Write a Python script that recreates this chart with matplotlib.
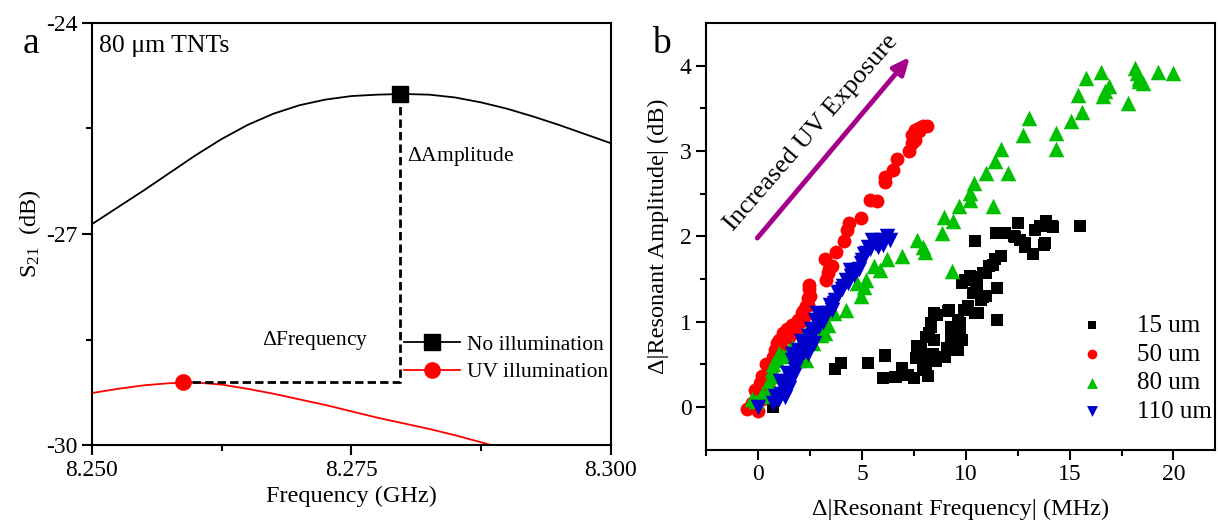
import numpy as np
import matplotlib
matplotlib.use("Agg")
import matplotlib.pyplot as plt

plt.rcParams['font.family'] = ['Liberation Serif', 'DejaVu Serif']
plt.rcParams['mathtext.fontset'] = 'custom'
plt.rcParams['mathtext.rm'] = 'Liberation Serif'
plt.rcParams['mathtext.it'] = 'Liberation Serif:italic'
plt.rcParams['axes.unicode_minus'] = False

# ---- panel a: S21 curves ----
freq_dark = [8.2500, 8.2525, 8.2550, 8.2575, 8.2600, 8.2625, 8.2650, 8.2675,
             8.2700, 8.2725, 8.2750, 8.2775, 8.2800, 8.2825, 8.2850, 8.2875,
             8.2900, 8.2925, 8.2950, 8.2975, 8.3000]
s21_dark = [-26.86, -26.62, -26.38, -26.13, -25.88, -25.65, -25.45, -25.29,
            -25.17, -25.09, -25.04, -25.02, -25.01, -25.02, -25.06, -25.13,
            -25.22, -25.33, -25.45, -25.58, -25.71]
freq_uv = [8.2500, 8.2525, 8.2550, 8.2575, 8.2600, 8.2625, 8.2650, 8.2675,
           8.2700, 8.2725, 8.2750, 8.2775, 8.2800, 8.2825, 8.2850, 8.2875,
           8.2900]
s21_uv = [-29.26, -29.20, -29.15, -29.12, -29.11, -29.14, -29.20, -29.27,
          -29.35, -29.43, -29.52, -29.61, -29.69, -29.77, -29.86, -29.96,
          -30.06]
peak_dark = (8.2797, -25.01)
peak_uv = (8.2588, -29.11)

# ---- panel b: amplitude vs frequency shift ----
df_15 = [0.69, 3.69, 3.98, 5.29, 6.08, 5.99, 6.57, 6.93, 7.21, 7.48, 7.66, 7.85,
         8.03, 8.16, 8.21, 8.30, 8.48, 8.45, 8.58, 8.08, 9.01, 9.10, 9.19, 9.28,
         9.45, 9.64, 9.73, 9.82, 9.64, 9.82, 9.91, 10.09, 10.18, 10.36, 10.46,
         10.55, 10.73, 10.82, 10.95, 10.46, 11.13, 11.40, 11.50, 11.50, 11.68,
         11.86, 11.59, 12.32, 12.50, 12.59, 12.86, 13.23, 13.32, 13.59, 13.87,
         14.14, 13.78, 15.51, 6.11, 6.63, 7.83, 8.07, 8.31, 8.59, 9.16, 9.26,
         9.07, 9.55, 9.74, 9.98, 10.26, 10.50, 10.84, 10.60, 10.98, 11.31,
         11.46, 11.89, 12.36, 12.84, 13.79, 14.18, 7.60, 7.95, 8.40]
da_15 = [0.00, 0.45, 0.52, 0.52, 0.60, 0.34, 0.35, 0.46, 0.38, 0.34, 0.71, 0.63,
         0.55, 0.36, 0.87, 0.98, 1.10, 0.79, 0.54, 0.44, 0.59, 0.69, 1.14, 0.83,
         0.67, 1.02, 0.87, 0.79, 0.67, 1.45, 1.14, 1.18, 1.53, 1.34, 1.10,
         1.43, 1.26, 1.57, 1.30, 1.94, 1.65, 1.73, 1.39, 1.02, 1.77,
         2.04, 2.04, 2.00, 2.16, 1.96, 1.88, 1.79, 2.08, 2.12, 2.18,
         2.12, 1.90, 2.12, 0.61, 0.35, 0.70, 0.82, 0.94, 1.08, 1.13, 0.94,
         0.67, 0.78, 0.98, 1.49, 1.52, 1.39, 1.29, 1.10, 1.57, 1.66,
         2.04, 2.04, 1.99, 1.92, 1.92, 2.11, 0.58, 0.45, 0.62]

df_50 = [-0.55, 0.00, -0.18, 0.09, 0.18, 0.36, 0.55, 0.73, 0.82, 0.91, 1.00,
         1.19, 1.37, 1.64, 1.82, 1.92, 2.10, 2.28, 2.37, 2.46, 2.46, 3.19, 3.28,
         3.56, 3.38, 3.74, 4.11, 4.29, 4.38, 4.96, 5.38, 5.71, 6.08, 6.08, 6.48,
         6.66, 7.26, 7.39, 7.48, 7.39, 7.57, 7.76, 7.94, 8.12, 7.57, 7.76,
         0.20, 0.50, 0.60, 1.10, 1.30, 1.50, 2.00, 2.20, 2.40, -0.30, 0.40,
         0.65, 0.95, 1.70, 2.15, 2.50, 3.40]
da_50 = [-0.02, -0.04, 0.20, 0.28, 0.36, 0.50, 0.44, 0.59, 0.67, 0.75, 0.79,
         0.87, 0.91, 0.96, 0.91, 1.02, 1.10, 1.18, 1.28, 1.38, 1.43, 1.73, 1.49,
         1.65, 1.57, 1.82, 1.94, 2.08, 2.16, 2.21, 2.43, 2.41, 2.64, 2.70, 2.78,
         2.90, 3.00, 3.09, 3.17, 3.19, 3.25, 3.27, 3.29, 3.29, 3.13, 3.23,
         0.10, 0.30, 0.40, 0.70, 0.85, 0.82, 1.00, 1.05, 1.20, 0.05, 0.25,
         0.52, 0.65, 0.93, 1.12, 1.30, 1.62]

df_80 = [-0.31, -0.09, 0.36, 0.55, 0.64, 0.73, 0.82, 1.00, 1.46, 1.92, 2.28,
         2.65, 2.92, 3.19, 3.38, 3.65, 4.20, 4.74, 4.93, 5.11, 5.20, 5.57, 5.84,
         6.20, 6.93, 7.66, 7.94, 8.03, 8.85, 8.94, 9.40, 9.31, 9.67, 10.22,
         10.22, 10.40, 10.95, 11.31, 11.40, 11.68, 12.04, 12.77, 13.05, 14.33,
         14.33, 15.05, 15.60, 15.42, 15.78, 16.51, 16.61, 16.70, 16.88, 17.80,
         18.17, 18.25, 18.34, 18.34, 18.52, 19.25, 19.98,
         0.20, 0.50, 0.90, 1.20, 1.60, 2.10, 2.40, 2.90, 3.00]
da_80 = [0.09, 0.07, 0.13, 0.22, 0.44, 0.50, 0.36, 0.63, 0.67, 0.55, 0.55,
         0.75, 1.10, 0.87, 0.96, 1.10, 1.14, 1.45, 1.30, 1.41, 1.49, 1.65, 1.61,
         1.73, 1.77, 1.96, 1.88, 1.82, 2.04, 2.23, 2.18, 1.59, 2.35, 2.51,
         2.43, 2.63, 2.74, 2.35, 2.88, 3.02, 2.74, 3.19, 3.39, 3.02,
         3.21, 3.35, 3.46, 3.66, 3.86, 3.93, 3.64, 3.70, 3.76, 3.56,
         3.97, 3.91, 3.86, 3.82, 3.80, 3.93, 3.91,
         0.15, 0.30, 0.55, 0.60, 0.70, 0.80, 0.90, 0.95, 0.85]

df_110 = [0.00, 0.82, 1.00, 1.19, 1.37, 1.64, 1.92, 2.10, 2.37, 2.55, 2.74,
          2.83, 3.01, 3.56, 3.65, 3.83, 4.01, 4.20, 4.47, 4.74, 4.93, 5.11,
          5.29, 5.47, 5.75, 5.93, 6.20, 6.33,
          0.70, 0.90, 1.10, 1.25, 1.45, 1.55, 1.75, 1.85, 2.00, 2.20, 2.30,
          2.50, 2.65, 2.90, 3.10, 3.30, 3.45, 3.70, 3.90, 4.10, 4.30, 4.60,
          4.85, 5.00, 5.20, 5.40, 5.60, 6.00, 1.05, 1.60, 2.05, 3.20,
          1.30, 1.50, 1.70, 2.40, 2.70, 4.40]
da_110 = [0.00, 0.13, 0.09, 0.24, 0.40, 0.55, 0.67, 0.75, 0.83, 0.91, 1.02,
          1.10, 1.02, 1.14, 1.22, 1.34, 1.38, 1.49, 1.53, 1.61, 1.69, 1.79,
          1.88, 1.96, 1.88, 1.96, 2.00, 1.96,
          0.05, 0.10, 0.15, 0.20, 0.30, 0.35, 0.45, 0.50, 0.60, 0.65, 0.70,
          0.80, 0.85, 0.95, 1.00, 1.10, 1.20, 1.25, 1.35, 1.42, 1.45, 1.55,
          1.62, 1.72, 1.80, 1.85, 1.92, 1.90, 0.30, 0.62, 0.78, 1.05,
          0.12, 0.22, 0.38, 0.62, 0.75, 1.60]

fig = plt.figure(figsize=(12.18, 5.2), dpi=100)
ax1 = fig.add_axes([0.0755, 0.144, 0.426, 0.812])
ax2 = fig.add_axes([0.580, 0.135, 0.4175, 0.821])

# ---- panel a ----
ax1.plot(freq_dark, s21_dark, color='black', lw=1.3)
ax1.plot(freq_uv, s21_uv, color='red', lw=1.3)
ax1.plot([peak_dark[0], peak_dark[0], peak_uv[0]],
         [peak_dark[1], peak_uv[1], peak_uv[1]],
         color='black', lw=2, ls=(0, (3, 1.5)))
ax1.plot(*peak_dark, marker='s', color='black', ms=11, ls='none')
ax1.plot(*peak_uv, marker='o', color='red', ms=11, ls='none')
ax1.plot([], [], color='black', marker='s', ms=11, lw=1.3, label='No illumination')
ax1.plot([], [], color='red', marker='o', ms=11, lw=1.3, label='UV illumination')
ax1.legend(loc='center left', bbox_to_anchor=(0.585, 0.205), frameon=False,
           fontsize=15.5, handlelength=2.6, handletextpad=0.3, labelspacing=0.35,
           borderaxespad=0)

ax1.text(8.2804, -25.9, r'$\Delta$Amplitude', fontsize=15.5, va='center', ha='left')
ax1.text(8.2715, -28.52, r'$\Delta$Frequency', fontsize=15.5, va='center', ha='center')
ax1.text(0.013, 0.945, '80 μm TNTs', transform=ax1.transAxes, fontsize=18.5,
         va='center', ha='left')

ax1.set_xlim(8.25, 8.30)
ax1.set_ylim(-30, -24)
ax1.set_xticks([8.250, 8.275, 8.300])
ax1.set_xticks([8.2625, 8.2875], minor=True)
ax1.set_xticklabels(['8.250', '8.275', '8.300'])
ax1.set_yticks([-30, -27, -24])
ax1.set_yticks([-28.5, -25.5], minor=True)
ax1.set_xlabel('Frequency (GHz)', fontsize=17.5, labelpad=4)
ax1.set_ylabel(r'S$_{\mathrm{21}}$  (dB)', fontsize=17.5, labelpad=2)

# ---- panel b ----
ax2.scatter(df_15, da_15, marker='s', s=85, color='black', label='15 um', lw=0)
ax2.scatter(df_50, da_50, marker='o', s=100, color='#FF0000', label='50 um', lw=0)
ax2.scatter(df_80, da_80, marker='^', s=125, color='#00C000', label='80 um', lw=0)
ax2.scatter(df_110, da_110, marker='v', s=125, color='#0000CC', label='110 um', lw=0)

ax2.annotate('', xy=(7.3, 4.10), xytext=(-0.05, 1.98),
             arrowprops=dict(arrowstyle='-|>,head_length=1.0,head_width=0.45',
                             color='#A4008A', lw=3.5, shrinkA=0, shrinkB=0))
ax2.text(2.55, 3.21, 'Increased UV Exposure', fontsize=19, rotation=49,
         rotation_mode='anchor', ha='center', va='center')

ax2.legend(loc='center left', bbox_to_anchor=(0.69, 0.19), frameon=False,
           fontsize=18, handletextpad=0.8, labelspacing=0.25, markerscale=0.7,
           borderaxespad=0, scatterpoints=1)

ax2.set_xlim(-2.5, 22)
ax2.set_ylim(-0.5, 4.5)
ax2.set_xticks([0, 5, 10, 15, 20])
ax2.set_xticks([-2.5, 2.5, 7.5, 12.5, 17.5], minor=True)
ax2.set_yticks([0, 1, 2, 3, 4])
ax2.set_yticks([0.5, 1.5, 2.5, 3.5], minor=True)
ax2.set_xlabel('Δ|Resonant Frequency| (MHz)', fontsize=17.5, labelpad=10)
ax2.set_ylabel('Δ|Resonant Amplitude| (dB)', fontsize=17.5, labelpad=8)

for ax in (ax1, ax2):
    for sp in ax.spines.values():
        sp.set_linewidth(1.5)
    ax.tick_params(which='major', direction='out', length=7, width=1.5,
                   labelsize=17)
    ax.tick_params(which='minor', direction='out', length=4, width=1.5)

fig.text(0.025, 0.915, 'a', fontsize=27, ha='center', va='center')
fig.text(0.543, 0.915, 'b', fontsize=27, ha='center', va='center')

fig.savefig('out.png', dpi=100)
